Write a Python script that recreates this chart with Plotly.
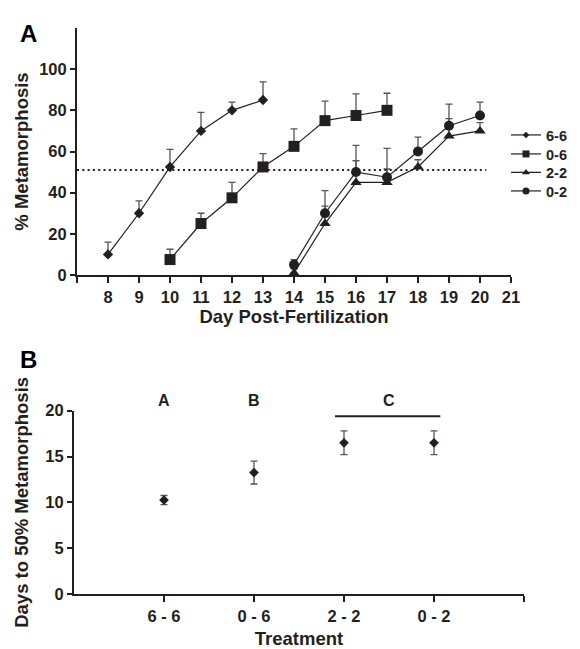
import plotly.graph_objects as go

# ---------------- Panel A data ----------------
days_66 = [8, 9, 10, 11, 12, 13]
pct_66 = [10, 30, 52.5, 70, 80, 85]
err_66 = [6, 6, 8.5, 9, 4, 8.8]

days_06 = [10, 11, 12, 13, 14, 15, 16, 17]
pct_06 = [7.5, 25, 37.5, 52.5, 62.5, 75, 77.5, 80]
err_06 = [5, 5, 7.5, 6.5, 8.5, 9.5, 10.5, 8.3]

days_22 = [14, 15, 16, 17, 18, 19, 20]
pct_22 = [1, 25, 45, 45, 52.5, 67.5, 70]
err_22 = [2, 8.5, 10.5, 6.5, 3.5, 8.5, 4]

days_02 = [14, 15, 16, 17, 18, 19, 20]
pct_02 = [5, 30, 50, 47.5, 60, 72.5, 77.5]
err_02 = [2.5, 11, 13, 14, 7, 10.5, 6.5]

threshold = 51
threshold_days = [7, 20.2]

day_ticks = list(range(7, 22))
pct_ticks = [0, 20, 40, 60, 80, 100]

# ---------------- Panel B data ----------------
treatments = ["6 - 6", "0 - 6", "2 - 2", "0 - 2"]
days50 = [10.25, 13.25, 16.5, 16.5]
days50_err = [0.5, 1.25, 1.3, 1.3]
group_letters = ["A", "B", "C"]
group_members = [[0], [1], [2, 3]]
days50_ticks = [0, 5, 10, 15, 20]

FONT = "Liberation Sans, Arial, Helvetica, sans-serif"
INK = "#231f20"
ERR = "#555555"

# page has an 8px body margin; figure sized to fit the 580x649 window
OFF = 8
W, H = 580 - OFF, 649 - OFF


def px(x):
    return (x - OFF) / W


def py(y):
    return 1 - (y - OFF) / H


domA_x = [px(77), px(511)]
domA_y = [py(275), py(28)]
domB_x = [px(74), px(524)]
domB_y = [py(594), py(410.7)]

fig = go.Figure()

series = [
    ("6-6", days_66, pct_66, err_66, "diamond", 8, 5),
    ("0-6", days_06, pct_06, err_06, "square", 11, 7),
    ("2-2", days_22, pct_22, err_22, "triangle-up", 10, 7),
    ("0-2", days_02, pct_02, err_02, "circle", 10, 7),
]

for name, xs, ys, es, sym, size, lsize in series:
    fig.add_trace(go.Scatter(
        x=xs, y=ys, mode="lines+markers", name=name, showlegend=False,
        line=dict(color=INK, width=1.2),
        marker=dict(symbol=sym, size=size, color=INK),
        error_y=dict(type="data", array=es, arrayminus=[0] * len(es), symmetric=False,
                     color=ERR, thickness=1.3, width=3.5),
        xaxis="x", yaxis="y", cliponaxis=False,
    ))

# threshold line
fig.add_trace(go.Scatter(
    x=threshold_days, y=[threshold, threshold], mode="lines", showlegend=False,
    line=dict(color=INK, width=2, dash="2px,3.3px"), xaxis="x", yaxis="y",
))

# legend entries (small symbols), each in its own legend for exact spacing
legend_ids = ["legend", "legend2", "legend3", "legend4"]
legend_y = [135, 154, 172.5, 191]
for (name, xs, ys, es, sym, size, lsize), lid in zip(series, legend_ids):
    fig.add_trace(go.Scatter(
        x=[None], y=[None], mode="lines+markers", name=name, showlegend=True,
        line=dict(color=INK, width=1.2),
        marker=dict(symbol=sym, size=lsize, color=INK),
        xaxis="x", yaxis="y", legend=lid,
    ))

# Panel B
xpos = [i + 1 for i in range(len(treatments))]
fig.add_trace(go.Scatter(
    x=xpos, y=days50, mode="markers", showlegend=False,
    marker=dict(symbol="diamond", size=7.5, color=INK),
    error_y=dict(type="data", array=days50_err, color=ERR, thickness=1.3, width=3.5),
    xaxis="x2", yaxis="y2",
))


def axis_style(ticklen):
    return dict(
        showline=True, linecolor=INK, linewidth=2, ticks="outside", tickcolor=INK,
        tickwidth=2, ticklen=ticklen, showgrid=False, zeroline=False, automargin=False,
        tickfont=dict(family=FONT, size=16.5, color=INK, weight="bold"),
        title_font=dict(family=FONT, size=18.5, color=INK, weight="bold"),
    )


legend_common = dict(
    x=px(506), xanchor="left", yanchor="middle",
    font=dict(family=FONT, size=14.5, color=INK, weight="bold"),
    bgcolor="rgba(0,0,0,0)", itemwidth=30, borderwidth=0,
)

fig.update_layout(
    width=W, height=H, margin=dict(l=0, r=0, t=0, b=0, autoexpand=False),
    paper_bgcolor="white", plot_bgcolor="white",
    font=dict(family=FONT, color=INK),
    xaxis=dict(domain=domA_x, anchor="y", range=[7, 21], tickvals=day_ticks,
               ticktext=[""] + [str(d) for d in day_ticks[1:]],
               title=dict(text="Day Post-Fertilization", standoff=4), **axis_style(6)),
    yaxis=dict(domain=domA_y, anchor="x", range=[0, 120], tickvals=pct_ticks,
               title=dict(text="% Metamorphosis", standoff=6), **axis_style(5)),
    xaxis2=dict(domain=domB_x, anchor="y2", range=[0, len(treatments) + 1],
                tickvals=xpos + [len(treatments) + 1], ticktext=treatments + [""],
                title=dict(text="Treatment", standoff=11), **axis_style(6)),
    yaxis2=dict(domain=domB_y, anchor="x2", range=[0, 20], tickvals=days50_ticks,
                title=dict(text="Days to 50% Metamorphosis", standoff=12), **axis_style(5)),
    legend=dict(y=py(legend_y[0]), **legend_common),
    legend2=dict(y=py(legend_y[1]), **legend_common),
    legend3=dict(y=py(legend_y[2]), **legend_common),
    legend4=dict(y=py(legend_y[3]), **legend_common),
)

# Panel letters
fig.add_annotation(x=px(18), y=py(18.5), xref="paper", yref="paper", text="A",
                   showarrow=False, font=dict(family=FONT, size=24, color="black", weight="bold"))
fig.add_annotation(x=px(18), y=py(359), xref="paper", yref="paper", text="B",
                   showarrow=False, font=dict(family=FONT, size=24, color="black", weight="bold"))


def ypaperB(v):
    return domB_y[0] + (v / 20) * (domB_y[1] - domB_y[0])


def xpaperB(v):
    return domB_x[0] + (v / (len(treatments) + 1)) * (domB_x[1] - domB_x[0])


letter_level = 21.1
for letter, members in zip(group_letters, group_members):
    cx = sum(xpos[m] for m in members) / len(members)
    fig.add_annotation(x=cx, y=ypaperB(letter_level), xref="x2", yref="paper", text=letter,
                       showarrow=False, font=dict(family=FONT, size=16, color=INK, weight="bold"))
    if len(members) > 1:
        x0 = xpos[members[0]] - 0.1
        x1 = xpos[members[-1]] + 0.07
        fig.add_shape(type="line", xref="paper", yref="paper",
                      x0=xpaperB(x0), x1=xpaperB(x1), y0=ypaperB(19.4), y1=ypaperB(19.4),
                      line=dict(color=INK, width=2))

fig.write_html("out.html")
